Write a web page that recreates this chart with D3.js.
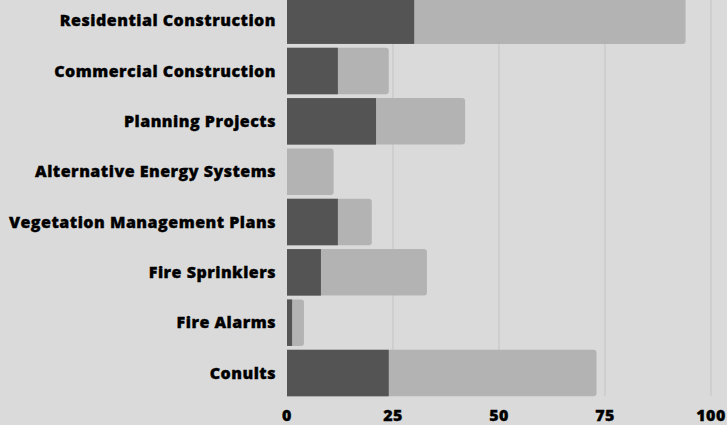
<!DOCTYPE html>
<html>
<head>
<meta charset="utf-8">
<script src="https://cdn.jsdelivr.net/npm/d3@7"></script>
<style>
  body { margin: 0; background: #dadada; }
  svg { display: block; font-family: "Open Sans", sans-serif; }
</style>
</head>
<body>
<svg id="chart" width="727" height="425"></svg>
<script>
// categories, top to bottom
var categories = ["Residential Construction", "Commercial Construction", "Planning Projects",
  "Alternative Energy Systems", "Vegetation Management Plans", "Fire Sprinklers", "Fire Alarms", "Conults"];
// dark part of each bar
var darkValues = [30, 12, 21, 0, 12, 8, 1.2, 24];
// full length of each bar
var totalValues = [94, 24, 42, 11, 20, 33, 4, 73];
var ticks = [0, 25, 50, 75, 100];

var svg = d3.select("#chart"),
    width = +svg.attr("width"),
    height = +svg.attr("height");

svg.append("rect").attr("width", width).attr("height", height).attr("fill", "#dadada");

var x = d3.scaleLinear().domain([0, 100]).range([287, 711]);
var y = d3.scaleBand().domain(categories).range([-4.5, 398.2]).paddingInner(0.076).paddingOuter(0.038);

// grid lines
svg.append("g").selectAll("line")
  .data(ticks.slice(1))
  .enter().append("line")
  .attr("x1", function(d) { return x(d); })
  .attr("x2", function(d) { return x(d); })
  .attr("y1", 0)
  .attr("y2", 396)
  .attr("stroke", "#c3c3c3")
  .attr("stroke-width", 1);

function rightRounded(x0, y0, w, h, r) {
  r = Math.min(r, w);
  return "M" + x0 + "," + y0 + "H" + (x0 + w - r) + "Q" + (x0 + w) + "," + y0 + " " + (x0 + w) + "," + (y0 + r)
    + "V" + (y0 + h - r) + "Q" + (x0 + w) + "," + (y0 + h) + " " + (x0 + w - r) + "," + (y0 + h)
    + "H" + x0 + "Z";
}

var rows = categories.map(function(c, i) { return { name: c, dark: darkValues[i], total: totalValues[i] }; });

var bars = svg.append("g").selectAll("g").data(rows).enter().append("g");

bars.append("path")
  .attr("fill", "#b3b3b3")
  .attr("d", function(d) { return rightRounded(x(0), y(d.name), x(d.total) - x(0), y.bandwidth(), 3); });

bars.append("rect")
  .attr("fill", "#545454")
  .attr("x", x(0))
  .attr("y", function(d) { return y(d.name); })
  .attr("width", function(d) { return x(d.dark) - x(0); })
  .attr("height", y.bandwidth());

function heavy(sel) {
  sel.attr("font-size", 16)
    .attr("font-weight", 800)
    .attr("letter-spacing", "0.5px")
    .attr("fill", "#000")
    .attr("stroke", "#000")
    .attr("stroke-width", 0.35);
}

// category labels
svg.append("g").selectAll("text")
  .data(categories)
  .enter().append("text")
  .attr("x", 276)
  .attr("y", function(d) { return y(d) + y.bandwidth() / 2; })
  .attr("dy", "0.36em")
  .attr("text-anchor", "end")
  .call(heavy)
  .text(function(d) { return d; });

// tick labels
svg.append("g").selectAll("text")
  .data(ticks)
  .enter().append("text")
  .attr("x", function(d) { return x(d); })
  .attr("y", 421)
  .attr("text-anchor", "middle")
  .call(heavy)
  .text(function(d) { return d; });
</script>
</body>
</html>
